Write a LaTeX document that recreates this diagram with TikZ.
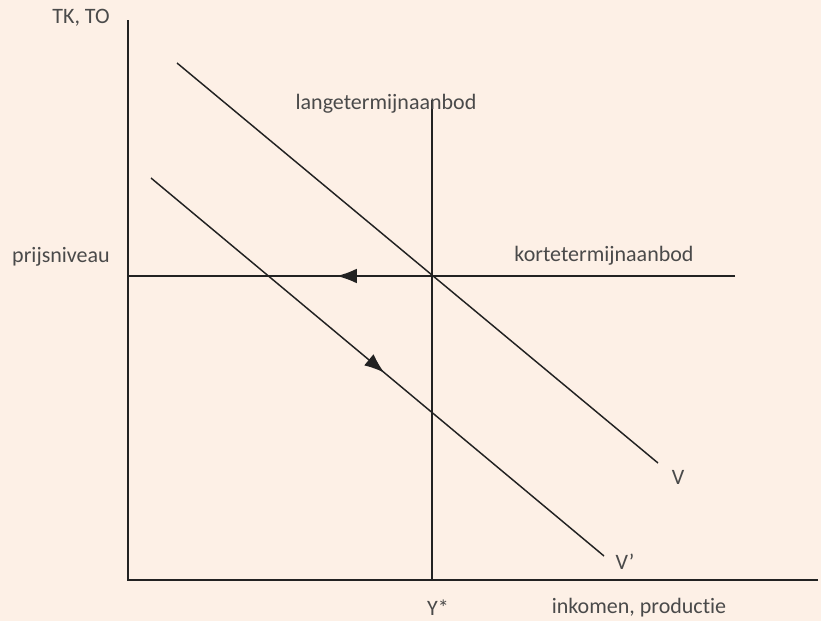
\documentclass[tikz,border=0pt]{standalone}
\usepackage{fontspec}
\setmainfont{Carlito}[Ligatures=NoCommon]
\usetikzlibrary{arrows.meta,decorations.markings}
\definecolor{bgc}{HTML}{FDF0E6}
\definecolor{linec}{HTML}{222222}
\definecolor{textc}{HTML}{4A4A4A}
\tikzset{
  axis/.style={draw=linec, line width=1.1pt},
  curve/.style={draw=linec, line width=1.1pt},
  lbl/.style={text=textc, font=\fontsize{16.5}{19}\selectfont, inner sep=0pt},
  midarrow/.style={postaction={decorate},
    decoration={markings, mark=at position #1 with {\arrow{Latex[length=15pt,width=11pt]}}}}
}
\begin{document}
\begin{tikzpicture}[x=0.75pt,y=-0.75pt]
\fill[bgc] (0,0) rectangle (821,621);
\useasboundingbox (0,0) rectangle (821,621);
% axes
\coordinate (o) at (128,580);
\coordinate (ytop) at (128,20);
\coordinate (xend) at (818,580);
\draw[axis] (ytop) -- (o) -- (xend);
% long-run supply
\coordinate (lt) at (432,100);
\coordinate (lb) at (432,580);
\draw[curve] (lt) -- (lb);
% short-run supply
\coordinate (ks) at (735,276);
\coordinate (ke) at (128,276);
\draw[curve, midarrow=0.656] (ks) -- (ke);
% demand V
\coordinate (v1) at (177,63);
\coordinate (v2) at (658,463);
\draw[curve] (v1) -- (v2);
% demand V'
\coordinate (w1) at (151,178);
\coordinate (w2) at (604,556);
\draw[curve, midarrow=0.515] (w1) -- (w2);
% labels
\node[lbl] (tk) at (81,18) {TK, TO};
\node[lbl] (lang) at (386,104) {langetermijnaanbod};
\node[lbl] (kort) at (604,256) {kortetermijnaanbod};
\node[lbl] (prijs) at (61,257) {prijsniveau};
\node[lbl] (V) at (678,477) {V};
\node[lbl] (Vp) at (625,562) {V'};
\node[lbl] (ys) at (438,608) {Y*};
\node[lbl] (ink) at (639,608) {inkomen, productie};
\end{tikzpicture}
\end{document}
